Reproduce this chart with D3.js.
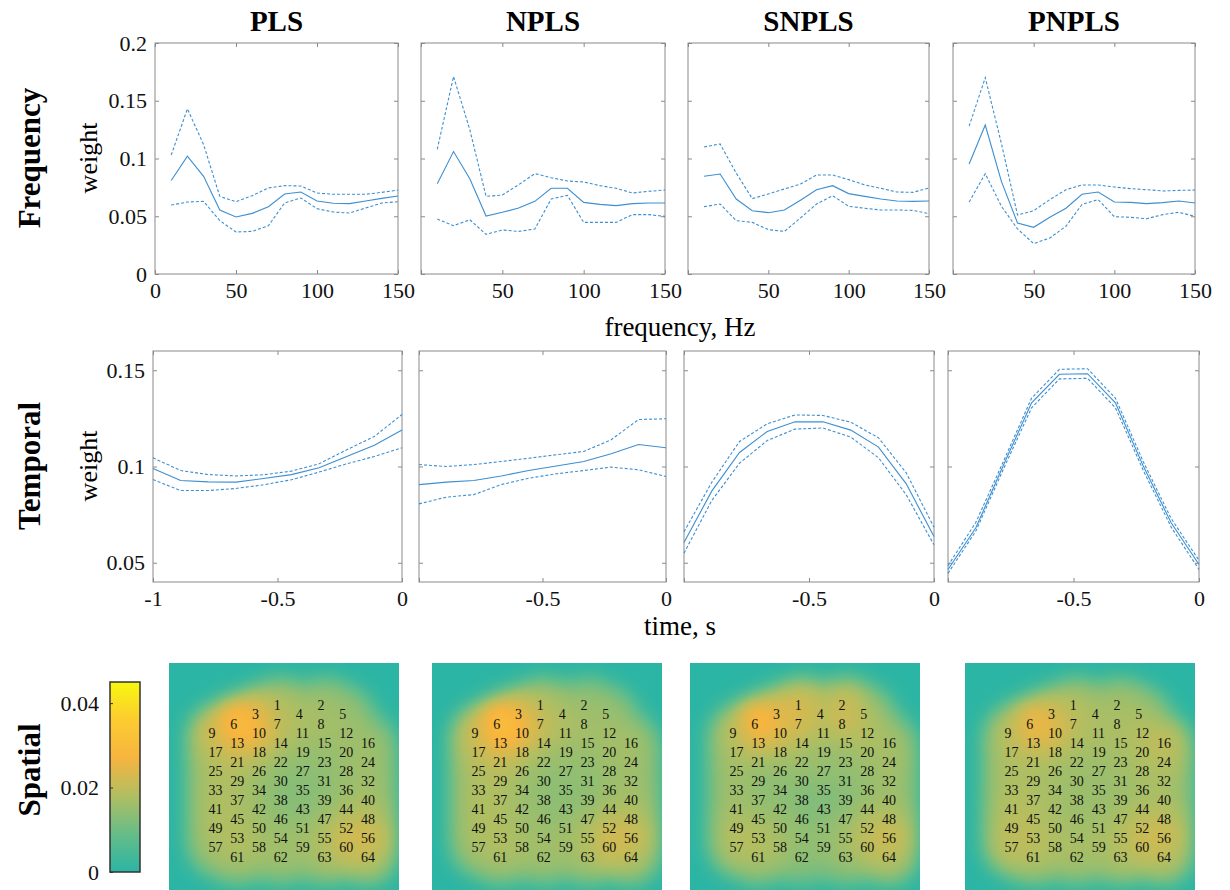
<!DOCTYPE html>
<html>
<head>
<meta charset="utf-8">
<script src="https://cdn.jsdelivr.net/npm/d3@7"></script>
<style>
body { margin: 0; background: #fff; }
text { font-family: "Liberation Serif", "Times New Roman", serif; }
</style>
</head>
<body>
<svg id="chart" width="1230" height="890"></svg>
<script>
// ---- data ----
let methods = ["PLS", "NPLS", "SNPLS", "PNPLS"]
let freqs = [10, 20, 30, 40, 50, 60, 70, 80, 90, 100, 110, 120, 130, 140, 150]
let times = [-1, -0.889, -0.778, -0.667, -0.556, -0.444, -0.333, -0.222, -0.111, 0]

let freqTicks = [0, 50, 100, 150]
let freqWeightTicks = [0, 0.05, 0.1, 0.15, 0.2]
let timeTicks = [-1, -0.5, 0]
let timeWeightTicks = [0.05, 0.1, 0.15]
let spatialTicks = [0, 0.02, 0.04]

// frequency weights: mean and the two dashed bounds
let plsFreqMean  = [0.081, 0.102, 0.0846, 0.0554, 0.0494, 0.0525, 0.0583, 0.0693, 0.071, 0.0632, 0.0612, 0.0609, 0.0632, 0.0655, 0.0675]
let plsFreqUpper = [0.103, 0.143, 0.112, 0.0672, 0.0626, 0.0678, 0.0745, 0.0765, 0.0762, 0.0701, 0.069, 0.069, 0.069, 0.0707, 0.0727]
let plsFreqLower = [0.0597, 0.0623, 0.0629, 0.0462, 0.0364, 0.0369, 0.0418, 0.0615, 0.0658, 0.0566, 0.0537, 0.0528, 0.0571, 0.0615, 0.0626]

let nplsFreqMean  = [0.0782, 0.106, 0.0825, 0.0502, 0.0534, 0.0571, 0.0629, 0.0742, 0.0742, 0.062, 0.0603, 0.0592, 0.0609, 0.0615, 0.0615]
let nplsFreqUpper = [0.108, 0.171, 0.125, 0.0672, 0.0684, 0.0773, 0.0869, 0.0834, 0.0805, 0.0797, 0.0765, 0.0742, 0.0701, 0.0716, 0.0727]
let nplsFreqLower = [0.0476, 0.0418, 0.047, 0.0343, 0.0381, 0.0369, 0.039, 0.0649, 0.0681, 0.0447, 0.0447, 0.0447, 0.0514, 0.0514, 0.0499]

let snplsFreqMean  = [0.0846, 0.0866, 0.0649, 0.0548, 0.0531, 0.0554, 0.0638, 0.073, 0.0765, 0.0696, 0.0672, 0.0649, 0.0632, 0.0629, 0.0632]
let snplsFreqUpper = [0.11, 0.1126, 0.0874, 0.0652, 0.0693, 0.0736, 0.0779, 0.0857, 0.0857, 0.0817, 0.0771, 0.0742, 0.071, 0.0707, 0.0745]
let snplsFreqLower = [0.0583, 0.0606, 0.0462, 0.0447, 0.0384, 0.0369, 0.0485, 0.0606, 0.0678, 0.0586, 0.0569, 0.0554, 0.0554, 0.0551, 0.0522]

let pnplsFreqMean  = [0.0952, 0.129, 0.0802, 0.0442, 0.0404, 0.0491, 0.0569, 0.069, 0.071, 0.0623, 0.062, 0.0609, 0.0618, 0.0632, 0.0615]
let pnplsFreqUpper = [0.128, 0.17, 0.113, 0.0511, 0.0548, 0.0644, 0.073, 0.0771, 0.0771, 0.0753, 0.0739, 0.073, 0.0719, 0.0724, 0.0727]
let pnplsFreqLower = [0.0623, 0.0869, 0.0586, 0.039, 0.0263, 0.0312, 0.0413, 0.0603, 0.0644, 0.0496, 0.0491, 0.0479, 0.0514, 0.0534, 0.0499]

// temporal weights
let plsTimeMean  = [0.099, 0.0927, 0.092, 0.0919, 0.0938, 0.0958, 0.0993, 0.1052, 0.111, 0.119]
let plsTimeUpper = [0.1045, 0.0979, 0.0958, 0.0951, 0.0957, 0.0976, 0.1014, 0.1087, 0.1156, 0.127]
let plsTimeLower = [0.0932, 0.0875, 0.0875, 0.0886, 0.0905, 0.0931, 0.0971, 0.1014, 0.1052, 0.1097]

let nplsTimeMean  = [0.0906, 0.0919, 0.0927, 0.0951, 0.0979, 0.1003, 0.1026, 0.1066, 0.1114, 0.1097]
let nplsTimeUpper = [0.101, 0.1, 0.101, 0.1026, 0.1043, 0.1061, 0.1078, 0.1139, 0.1244, 0.1248]
let nplsTimeLower = [0.0806, 0.0841, 0.0854, 0.0906, 0.0939, 0.0962, 0.0979, 0.0997, 0.0983, 0.0948]

let snplsTimeMean  = [0.0605, 0.0872, 0.1073, 0.1182, 0.1232, 0.1232, 0.1189, 0.1101, 0.091, 0.0636]
let snplsTimeUpper = [0.0661, 0.0918, 0.113, 0.1222, 0.1268, 0.1265, 0.123, 0.1149, 0.0967, 0.0684]
let snplsTimeLower = [0.055, 0.0823, 0.1017, 0.1135, 0.1194, 0.12, 0.1153, 0.1045, 0.0853, 0.0593]

let pnplsTimeMean  = [0.0465, 0.0682, 0.101, 0.1331, 0.1479, 0.1482, 0.1331, 0.1002, 0.0708, 0.0491]
let pnplsTimeUpper = [0.0485, 0.071, 0.103, 0.1355, 0.1505, 0.1508, 0.1355, 0.1025, 0.073, 0.0512]
let pnplsTimeLower = [0.0445, 0.0665, 0.099, 0.1305, 0.1455, 0.1458, 0.1305, 0.098, 0.0685, 0.0465]

// electrode montage: column (0..7) and half-row (0..16) of channels 1..64
let elecCol = [3,5,2,4,6,1,3,5, 0,2,4,6,1,3,5,7, 0,2,4,6,1,3,5,7, 0,2,4,6,1,3,5,7,
               0,2,4,6,1,3,5,7, 0,2,4,6,1,3,5,7, 0,2,4,6,1,3,5,7, 0,2,4,6,1,3,5,7]
let elecRow = [0,0,1,1,1,2,2,2, 3,3,3,3,4,4,4,4, 5,5,5,5,6,6,6,6, 7,7,7,7,8,8,8,8,
               9,9,9,9,10,10,10,10, 11,11,11,11,12,12,12,12, 13,13,13,13,14,14,14,14, 15,15,15,15,16,16,16,16]

// spatial weights per channel
let plsSpatial = [0.020,0.018,0.028,0.019,0.017,0.037,0.022,0.019,
                  0.026,0.032,0.019,0.018,0.030,0.020,0.017,0.018,
                  0.021,0.022,0.016,0.017,0.021,0.016,0.016,0.018,
                  0.020,0.017,0.015,0.017,0.019,0.014,0.015,0.018,
                  0.020,0.017,0.014,0.017,0.019,0.014,0.015,0.019,
                  0.020,0.017,0.014,0.019,0.020,0.015,0.018,0.021,
                  0.020,0.018,0.017,0.026,0.021,0.018,0.021,0.027,
                  0.019,0.019,0.018,0.025,0.019,0.018,0.019,0.021]
let nplsSpatial = [0.020,0.017,0.028,0.019,0.017,0.038,0.023,0.018,
                   0.025,0.033,0.020,0.019,0.033,0.019,0.017,0.019,
                   0.022,0.022,0.017,0.018,0.022,0.016,0.016,0.018,
                   0.020,0.018,0.016,0.017,0.020,0.015,0.015,0.018,
                   0.020,0.017,0.015,0.017,0.020,0.015,0.015,0.019,
                   0.020,0.017,0.015,0.019,0.020,0.016,0.018,0.021,
                   0.020,0.018,0.017,0.026,0.021,0.018,0.021,0.026,
                   0.019,0.019,0.018,0.026,0.019,0.018,0.019,0.020]
let snplsSpatial = [0.026,0.025,0.027,0.021,0.018,0.037,0.026,0.027,
                    0.022,0.027,0.019,0.021,0.028,0.020,0.018,0.019,
                    0.019,0.019,0.016,0.018,0.016,0.017,0.016,0.019,
                    0.019,0.016,0.017,0.017,0.015,0.015,0.015,0.018,
                    0.018,0.015,0.013,0.016,0.015,0.013,0.014,0.018,
                    0.019,0.016,0.013,0.018,0.018,0.014,0.016,0.021,
                    0.021,0.018,0.016,0.024,0.022,0.016,0.019,0.026,
                    0.021,0.019,0.016,0.022,0.019,0.015,0.017,0.021]
let pnplsSpatial = [0.020,0.019,0.025,0.019,0.018,0.032,0.021,0.019,
                    0.022,0.029,0.019,0.022,0.027,0.019,0.019,0.024,
                    0.020,0.020,0.018,0.020,0.019,0.017,0.018,0.021,
                    0.020,0.018,0.017,0.019,0.019,0.017,0.017,0.019,
                    0.020,0.018,0.017,0.018,0.020,0.017,0.017,0.019,
                    0.021,0.018,0.017,0.020,0.021,0.017,0.019,0.022,
                    0.022,0.019,0.018,0.025,0.022,0.019,0.021,0.026,
                    0.023,0.020,0.019,0.024,0.020,0.019,0.020,0.021]

// ---- layout / style ----
let lineColor = "#3d8fd1"
let boxColor = "#8a8a8a"
let cmapStops = [0, 0.009, 0.018, 0.027, 0.036, 0.045]
let cmapColors = ["#2bb5a4", "#66bd88", "#b0be62", "#f6b53f", "#fdcb30", "#f8f80f"]

let freqPanels = [
    {name: "PLS",   x0: 155, x1: 398, mean: plsFreqMean,   upper: plsFreqUpper,   lower: plsFreqLower},
    {name: "NPLS",  x0: 421, x1: 665, mean: nplsFreqMean,  upper: nplsFreqUpper,  lower: nplsFreqLower},
    {name: "SNPLS", x0: 688, x1: 929, mean: snplsFreqMean, upper: snplsFreqUpper, lower: snplsFreqLower},
    {name: "PNPLS", x0: 953, x1: 1195, mean: pnplsFreqMean, upper: pnplsFreqUpper, lower: pnplsFreqLower}
]
let timePanels = [
    {x0: 153, x1: 402, mean: plsTimeMean,   upper: plsTimeUpper,   lower: plsTimeLower},
    {x0: 419, x1: 666, mean: nplsTimeMean,  upper: nplsTimeUpper,  lower: nplsTimeLower},
    {x0: 684, x1: 934, mean: snplsTimeMean, upper: snplsTimeUpper, lower: snplsTimeLower},
    {x0: 948, x1: 1199, mean: pnplsTimeMean, upper: pnplsTimeUpper, lower: pnplsTimeLower}
]
let mapPanels = [
    {x0: 169, vals: plsSpatial},
    {x0: 432, vals: nplsSpatial},
    {x0: 690, vals: snplsSpatial},
    {x0: 965, vals: pnplsSpatial}
]

let svg = d3.select("#chart")
svg.append("rect").attr("width", 1230).attr("height", 890).attr("fill", "#fff")

let fmt = d => String(d)

let drawPanel = (p, i, xs, ys, xTicks, yTicks, top, bottom, xvals) => {
    let g = svg.append("g")
    let w = p.x1 - p.x0, h = bottom - top
    let x = d3.scaleLinear().domain(xs).range([p.x0, p.x1])
    let y = d3.scaleLinear().domain(ys).range([bottom, top])

    // tick marks pointing in on all four sides, labels only on outer left and bottom
    let ax = (axis, tr, labels) => {
        let a = g.append("g").attr("transform", tr)
            .call(axis.tickSizeOuter(0).tickPadding(8).tickFormat(labels))
        a.select(".domain").remove()
        a.selectAll("line").attr("stroke", boxColor)
        a.selectAll("text").attr("font-size", 22).attr("fill", "#111")
            .attr("font-family", "Liberation Serif, serif")
        return a
    }
    ax(d3.axisBottom(x).tickValues(xTicks).tickSize(-4), "translate(0," + bottom + ")",
        d => (i > 0 && d === xs[0]) ? "" : fmt(d))
    ax(d3.axisTop(x).tickValues(xTicks).tickSize(-4), "translate(0," + top + ")", () => "")
    ax(d3.axisLeft(y).tickValues(yTicks).tickSize(-4), "translate(" + p.x0 + ",0)",
        d => i > 0 ? "" : fmt(d))
    ax(d3.axisRight(y).tickValues(yTicks).tickSize(-4), "translate(" + p.x1 + ",0)", () => "")

    g.append("rect").attr("x", p.x0).attr("y", top).attr("width", w).attr("height", h)
        .attr("fill", "none").attr("stroke", boxColor).attr("stroke-width", 1)

    let line = d3.line().x((d, k) => x(xvals[k])).y(d => y(d))
    g.append("path").attr("d", line(p.mean)).attr("fill", "none")
        .attr("stroke", lineColor).attr("stroke-width", 1.1)
    ;[p.upper, p.lower].forEach(s => {
        g.append("path").attr("d", line(s)).attr("fill", "none")
            .attr("stroke", lineColor).attr("stroke-width", 1.1).attr("stroke-dasharray", "3,2")
    })
}

freqPanels.forEach((p, i) => {
    drawPanel(p, i, [0, 150], [0, 0.2], freqTicks, freqWeightTicks, 43, 274, freqs)
    svg.append("text").attr("x", (p.x0 + p.x1) / 2).attr("y", 31)
        .attr("text-anchor", "middle").attr("font-size", 29).attr("font-weight", "bold")
        .text(p.name)
})
timePanels.forEach((p, i) => {
    drawPanel(p, i, [-1, 0], [0.04, 0.16], timeTicks, timeWeightTicks, 351, 582, times)
})

// axis titles
svg.append("text").attr("x", 680).attr("y", 336).attr("text-anchor", "middle")
    .attr("font-size", 27).text("frequency, Hz")
svg.append("text").attr("x", 680).attr("y", 635).attr("text-anchor", "middle")
    .attr("font-size", 27).text("time, s")
;[[97, 158], [97, 466]].forEach(([lx, ly]) => {
    svg.append("text").attr("transform", "translate(" + lx + "," + ly + ") rotate(-90)")
        .attr("text-anchor", "middle").attr("font-size", 26).text("weight")
})
;[["Frequency", 158], ["Temporal", 466], ["Spatial", 770]].forEach(([t, ly]) => {
    svg.append("text").attr("transform", "translate(40," + ly + ") rotate(-90)")
        .attr("text-anchor", "middle").attr("font-size", 31).attr("font-weight", "bold").text(t)
})

// ---- spatial maps ----
let color = d3.scaleLinear().domain(cmapStops).range(cmapColors).clamp(true)
let mapSize = 230, mapTop = 663
let ex = d3.scaleLinear().domain([0, 7]).range([46.5, 199])    // electrode centre, px in map
let ey = d3.scaleLinear().domain([0, 16]).range([41.7, 193.7])
let sigma = 14, prior = 0.3

mapPanels.forEach(m => {
    let cv = document.createElement("canvas")
    cv.width = mapSize; cv.height = mapSize
    let ctx = cv.getContext("2d")
    let img = ctx.createImageData(mapSize, mapSize)
    let pts = m.vals.map((v, k) => [ex(elecCol[k]), ey(elecRow[k]), v])
    for (let py = 0; py < mapSize; py++) {
        for (let px = 0; px < mapSize; px++) {
            let num = 0, den = prior
            pts.forEach(([cx, cy, v]) => {
                let d2 = (px - cx) * (px - cx) + (py - cy) * (py - cy)
                let k = Math.exp(-d2 / (2 * sigma * sigma))
                num += k * v; den += k
            })
            let c = d3.rgb(color(num / den))
            let o = (py * mapSize + px) * 4
            img.data[o] = c.r; img.data[o + 1] = c.g; img.data[o + 2] = c.b; img.data[o + 3] = 255
        }
    }
    ctx.putImageData(img, 0, 0)
    svg.append("image").attr("x", m.x0).attr("y", mapTop).attr("width", mapSize).attr("height", mapSize)
        .attr("href", cv.toDataURL())

    svg.append("g").selectAll("text").data(m.vals).enter().append("text")
        .attr("x", (d, k) => m.x0 + ex(elecCol[k]) - 7)
        .attr("y", (d, k) => mapTop + ey(elecRow[k]))
        .attr("dy", "0.35em").attr("font-size", 14).attr("fill", "#111")
        .text((d, k) => k + 1)
})

// colour bar
let cbX = 110, cbW = 30, cbTop = 682, cbBot = 872
let cb = d3.scaleLinear().domain([0, 0.045]).range([cbBot, cbTop])
let grad = svg.append("defs").append("linearGradient").attr("id", "cbgrad")
    .attr("x1", 0).attr("y1", 1).attr("x2", 0).attr("y2", 0)
grad.selectAll("stop").data(cmapStops).enter().append("stop")
    .attr("offset", d => d / 0.045).attr("stop-color", (d, k) => cmapColors[k])
svg.append("rect").attr("x", cbX).attr("y", cbTop).attr("width", cbW).attr("height", cbBot - cbTop)
    .attr("fill", "url(#cbgrad)").attr("stroke", "#333").attr("stroke-width", 1.5)
let cba = svg.append("g").attr("transform", "translate(" + cbX + ",0)")
    .call(d3.axisLeft(cb).tickValues(spatialTicks).tickSize(-3).tickSizeOuter(0).tickPadding(11).tickFormat(fmt))
cba.select(".domain").remove()
cba.selectAll("line").attr("stroke", "#333")
cba.selectAll("text").attr("font-size", 22).attr("fill", "#111").attr("font-family", "Liberation Serif, serif")
</script>
</body>
</html>
